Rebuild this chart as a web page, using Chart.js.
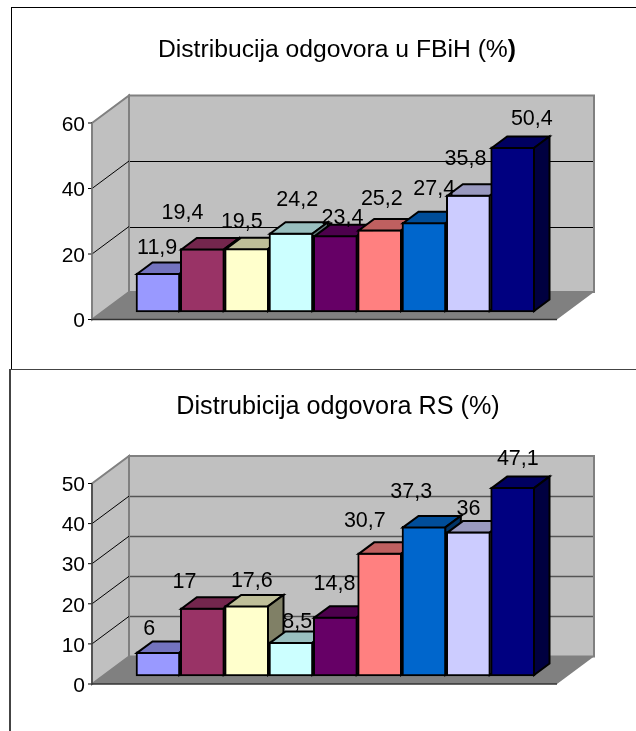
<!DOCTYPE html>
<html>
<head>
<meta charset="utf-8">
<script src="https://cdn.jsdelivr.net/npm/chart.js@4"></script>
<style>
html, body { margin: 0; padding: 0; background: #fff; overflow: hidden; width: 636px; height: 731px; }
canvas { position: absolute; left: 0; }
.frame { position: absolute; width: 800px; box-sizing: border-box; }
</style>
</head>
<body>
<div class="frame" style="left:11px;top:7px;height:363px;border:1px solid #000"></div>
<div class="frame" style="left:9px;top:369px;height:500px;border:2px solid #444;border-width:1px 0 0 2px"></div>
<canvas id="fbih" width="636" height="369" style="top:0"></canvas>
<canvas id="rs" width="636" height="362" style="top:369px"></canvas>
<script>
var categories = ['1', '2', '3', '4', '5', '6', '7', '8', '9'];
var valuesFBiH = [11.9, 19.4, 19.5, 24.2, 23.4, 25.2, 27.4, 35.8, 50.4];
var valuesRS = [6, 17, 17.6, 8.5, 14.8, 30.7, 37.3, 36, 47.1];
var barColors = ['#9999FF', '#993366', '#FFFFCC', '#CCFFFF', '#660066', '#FF8080', '#0066CC', '#CCCCFF', '#000080'];

// excel puts the value labels all over the place, so nudge each one from its bar top
var nudgeFBiH = [[-1, -25], [-20, -35], [-5, -26], [6, -33], [7, -17], [2, -30], [10, -33], [-3, -36], [19, -28]];
var nudgeRS = [[-9, -23], [-18, -26], [5, -24], [6, -20], [-1, -33], [-15, -32], [-13, -34], [0, -23], [5, -28]];

var FONT = '"Liberation Sans", Arial, sans-serif';

function shade(hex, k) {
    var n = parseInt(hex.slice(1), 16);
    var r = Math.round((n >> 16 & 255) * k), g = Math.round((n >> 8 & 255) * k), b = Math.round((n & 255) * k);
    return 'rgb(' + r + ',' + g + ',' + b + ')';
}

function poly(ctx, pts, fill, stroke, lw) {
    ctx.beginPath();
    pts.forEach(function (p, i) { i ? ctx.lineTo(p[0], p[1]) : ctx.moveTo(p[0], p[1]); });
    ctx.closePath();
    if (fill) { ctx.fillStyle = fill; ctx.fill(); }
    if (stroke) { ctx.strokeStyle = stroke; ctx.lineWidth = lw; ctx.lineJoin = 'miter'; ctx.stroke(); }
}

function line(ctx, x1, y1, x2, y2, color, lw) {
    ctx.beginPath();
    ctx.moveTo(x1, y1);
    ctx.lineTo(x2, y2);
    ctx.strokeStyle = color;
    ctx.lineWidth = lw;
    ctx.stroke();
}

// walls, floor and gridlines of the fake 3d box, hung off the y scale
var box3d = {
    id: 'box3d',
    // tick labels sit a little under their ticks in the original
    beforeDraw: function (chart) {
        chart.scales.y.getLabelItems().forEach(function (item) {
            item.options.translation[1] += 2;
        });
    },
    beforeDatasetsDraw: function (chart, args, o) {
        var ctx = chart.ctx, y = chart.scales.y;
        var x0 = 92, x1 = 557, dx = 37, dy = 27.5;
        var y0 = y.getPixelForValue(y.min), yT = y.getPixelForValue(y.max);
        ctx.save();
        poly(ctx, [[x0 + dx, yT - dy], [x1 + dx, yT - dy], [x1 + dx, y0 - dy], [x0 + dx, y0 - dy]], '#C0C0C0', '#808080', 2);
        poly(ctx, [[x0, yT], [x0 + dx, yT - dy], [x0 + dx, y0 - dy], [x0, y0]], '#C0C0C0', '#808080', 2);
        poly(ctx, [[x0, y0], [x0 + dx, y0 - dy], [x1 + dx, y0 - dy], [x1, y0]], '#808080');
        y.ticks.forEach(function (t) {
            var py = y.getPixelForValue(t.value);
            if (t.value > y.min && t.value < y.max) {
                line(ctx, x0, py, x0 + dx, py - dy, '#000', 1);
                line(ctx, x0 + dx + 1, Math.round(py - dy) + 0.5, x1 + dx - 1, Math.round(py - dy) + 0.5, o.gridColor, o.gridWidth);
            }
            line(ctx, x0 - 4, py, x0, py, '#000', 1);
        });
        line(ctx, x0, yT, x0, y0, o.axisColor, 1.5);
        line(ctx, x0, y0, x1, y0, '#333', 1.5);
        ctx.restore();
    },
    // bars one by one so every bar's front covers the side of the one before it
    beforeDatasetDraw: function (chart, args) {
        var ctx = chart.ctx, dx = 15.5, dy = 11.5;
        args.meta.data.forEach(function (el, i) {
            var c = barColors[i], l = el.x - el.width / 2, r = el.x + el.width / 2;
            el.draw(ctx);
            ctx.save();
            poly(ctx, [[l + 1, el.y + 1], [l + 1 + dx, el.y + 1 - dy], [r - 1 + dx, el.y + 1 - dy], [r - 1, el.y + 1]], shade(c, 0.75), '#000', 2);
            poly(ctx, [[r - 1, el.y + 1], [r - 1 + dx, el.y + 1 - dy], [r - 1 + dx, el.base - 1 - dy], [r - 1, el.base - 1]], shade(c, 0.5), '#000', 2);
            ctx.restore();
        });
        return false;
    },
    afterDatasetsDraw: function (chart, args, o) {
        var ctx = chart.ctx, ds = chart.data.datasets[0];
        ctx.save();
        ctx.fillStyle = '#000';
        ctx.font = '21.5px ' + FONT;
        ctx.textAlign = 'center';
        ctx.textBaseline = 'middle';
        chart.getDatasetMeta(0).data.forEach(function (el, i) {
            ctx.fillText(String(ds.data[i]).replace('.', ','), el.x + o.nudge[i][0], el.y + o.nudge[i][1]);
        });
        // title by hand: the closing bracket of the first one is bold
        ctx.font = o.titleSize + 'px ' + FONT;
        var w = ctx.measureText(o.title).width, w2 = 0;
        ctx.textAlign = 'left';
        if (o.titleBold) {
            ctx.font = 'bold ' + o.titleSize + 'px ' + FONT;
            w2 = ctx.measureText(o.titleBold).width;
            ctx.font = o.titleSize + 'px ' + FONT;
        }
        var tx = o.titleX - (w + w2) / 2;
        ctx.fillText(o.title, tx, o.titleY);
        if (o.titleBold) {
            ctx.font = 'bold ' + o.titleSize + 'px ' + FONT;
            ctx.fillText(o.titleBold, tx + w, o.titleY);
        }
        ctx.restore();
    }
};

function draw3d(id, values, yMax, step, lift, padTop, padBottom, extra) {
    new Chart(document.getElementById(id).getContext('2d'), {
        type: 'bar',
        data: {
            labels: categories,
            datasets: [{
                data: values,
                yAxisID: 'yBars',
                backgroundColor: barColors,
                borderColor: '#000',
                borderWidth: 2,
                borderSkipped: false,
                categoryPercentage: 1,
                barPercentage: 1
            }]
        },
        options: {
            responsive: false,
            animation: false,
            layout: { autoPadding: false, padding: { top: padTop, bottom: padBottom, right: 101, left: 0 } },
            scales: {
                x: { display: false },
                y: {
                    min: 0,
                    max: yMax,
                    position: 'left',
                    afterFit: function (s) { s.width = 136; s.paddingTop = 0; s.paddingBottom = 0; },
                    border: { display: false },
                    grid: { display: false },
                    ticks: { stepSize: step, padding: 43, color: '#000', font: { family: FONT, size: 21 } }
                },
                // same pixels per unit as y, only lifted off the front edge of the floor
                yBars: { display: false, min: -lift, max: yMax - lift }
            },
            plugins: { legend: { display: false }, tooltip: { enabled: false }, box3d: extra }
        },
        plugins: [box3d]
    });
}

draw3d('fbih', valuesFBiH, 60, 20, 2.29, 123, 49.5, {
    nudge: nudgeFBiH, title: 'Distribucija odgovora u FBiH (%', titleBold: ')', titleX: 337, titleY: 50, titleSize: 24.7,
    gridColor: '#000', gridWidth: 1, axisColor: '#808080'
});
draw3d('rs', valuesRS, 50, 10, 2, 114.5, 47, {
    nudge: nudgeRS, title: 'Distrubicija odgovora RS (%)', titleX: 338, titleY: 38, titleSize: 25.2,
    gridColor: '#555', gridWidth: 1.5, axisColor: '#444'
});
</script>
</body>
</html>
